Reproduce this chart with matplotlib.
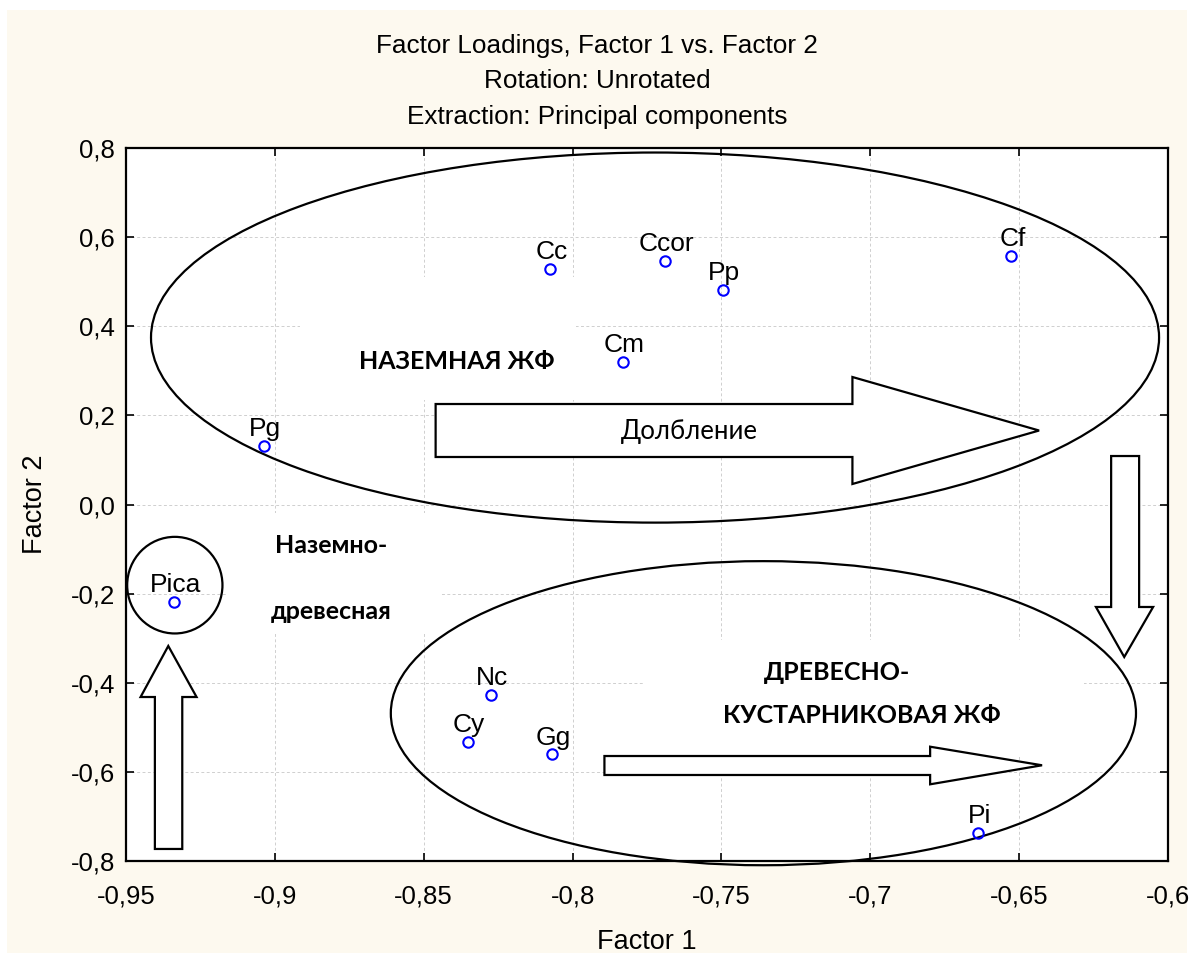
import matplotlib
matplotlib.use("Agg")
import matplotlib.pyplot as plt
from matplotlib.patches import Ellipse, Polygon, Rectangle

# factor loadings
labels = ["Cc", "Ccor", "Pp", "Cf", "Cm", "Pg", "Pica", "Nc", "Cy", "Gg", "Pi"]
factor1 = [-0.8075, -0.769, -0.7495, -0.6527, -0.7831, -0.9037, -0.9339, -0.8275, -0.8352, -0.8069, -0.6637]
factor2 = [0.528, 0.546, 0.481, 0.558, 0.320, 0.131, -0.219, -0.427, -0.533, -0.561, -0.737]

xticks = [-0.95, -0.9, -0.85, -0.8, -0.75, -0.7, -0.65, -0.6]
xticklabels = ["-0,95", "-0,9", "-0,85", "-0,8", "-0,75", "-0,7", "-0,65", "-0,6"]
yticks = [-0.8, -0.6, -0.4, -0.2, 0.0, 0.2, 0.4, 0.6, 0.8]
yticklabels = ["-0,8", "-0,6", "-0,4", "-0,2", "0,0", "0,2", "0,4", "0,6", "0,8"]

title_lines = ["Factor Loadings, Factor 1 vs. Factor 2",
               "Rotation: Unrotated",
               "Extraction: Principal components"]

# group outlines (data units): center x, center y, width, height
groups = [(-0.7723, 0.3746, 0.3386, 0.8305),
          (-0.7359, -0.4683, 0.2503, 0.6824),
          (-0.9336, -0.181, 0.032, 0.2168)]

# block arrows: outline vertices
arrows = [
    [(-0.846, 0.2255), (-0.706, 0.2255), (-0.706, 0.2861), (-0.6433, 0.166),
     (-0.706, 0.046), (-0.706, 0.1066), (-0.846, 0.1066)],
    [(-0.7893, -0.5644), (-0.6799, -0.5644), (-0.6799, -0.5435), (-0.6423, -0.5852),
     (-0.6799, -0.6279), (-0.6799, -0.607), (-0.7893, -0.607)],
    [(-0.6191, 0.1088), (-0.6097, 0.1088), (-0.6097, -0.23), (-0.605, -0.23),
     (-0.6147, -0.3422), (-0.6242, -0.23), (-0.6191, -0.23)],
    [(-0.9403, -0.773), (-0.9311, -0.773), (-0.9311, -0.432), (-0.9263, -0.432),
     (-0.9358, -0.3175), (-0.9451, -0.432), (-0.9403, -0.432)],
]

# white text boxes that hide the grid (x0, x1, y0, y1)
boxes = [(-0.8916, -0.7987, 0.2345, 0.5105),
         (-0.9158, -0.8446, -0.2883, -0.0191),
         (-0.7758, -0.6282, -0.5644, -0.304)]

# annotation texts: text, x, y, bold
notes = [("НАЗЕМНАЯ ЖФ", -0.8389, 0.3198, True),
         ("Долбление", -0.7607, 0.1627, False),
         ("Наземно-", -0.8812, -0.0909, True),
         ("древесная", -0.8812, -0.2412, True),
         ("ДРЕВЕСНО-", -0.7111, -0.3759, True),
         ("КУСТАРНИКОВАЯ ЖФ", -0.7027, -0.4746, True)]

plt.rcParams["font.family"] = ["Liberation Sans", "DejaVu Sans"]

fig = plt.figure(figsize=(11.94, 9.61), dpi=100, facecolor="white")
fig.patches.append(Rectangle((7 / 1194, 8 / 961), 1180 / 1194, 943 / 961,
                             transform=fig.transFigure, facecolor="#fdf9ef",
                             edgecolor="none", zorder=-10))

ax = fig.add_axes([126 / 1194, 1 - 861 / 961, 1042 / 1194, 713 / 961])
ax.set_zorder(1)
ax.set_facecolor("white")
ax.set_xlim(-0.95, -0.6)
ax.set_ylim(-0.8, 0.8)
ax.set_xticks(xticks)
ax.set_xticklabels(xticklabels)
ax.set_yticks(yticks)
ax.set_yticklabels(yticklabels)
ax.tick_params(direction="in", length=6, width=1.2, top=True, right=True,
               labelsize=18.5, colors="black")
ax.tick_params(axis="x", pad=17)
ax.tick_params(axis="y", pad=8)
ax.grid(True, color="#cfcfcf", linestyle=(0, (3, 2.5)), linewidth=0.7)
ax.set_axisbelow(True)
for sp in ax.spines.values():
    sp.set_linewidth(1.6)

for x0, x1, y0, y1 in boxes:
    ax.add_patch(Rectangle((x0, y0), x1 - x0, y1 - y0, facecolor="white",
                           edgecolor="none", zorder=1))

for cx, cy, w, h in groups:
    ax.add_patch(Ellipse((cx, cy), w, h, facecolor="none", edgecolor="black",
                         linewidth=1.6, clip_on=False, zorder=3))

for verts in arrows:
    ax.add_patch(Polygon(verts, closed=True, facecolor="white", edgecolor="black",
                         linewidth=1.6, clip_on=False, zorder=3))

for txt, x, y, bold in notes:
    ax.text(x, y, txt, ha="center", va="center", fontsize=18 if bold else 18.5,
            fontweight="bold" if bold else "normal",
            family=["Lato", "DejaVu Sans"], zorder=4)

ax.plot(factor1, factor2, linestyle="none", marker="o", markersize=7.5,
        markerfacecolor="none", markeredgecolor="#0000ff", markeredgewidth=1.5,
        zorder=5)
for lab, x, y in zip(labels, factor1, factor2):
    ax.annotate(lab, (x, y), xytext=(1, 7), textcoords="offset points",
                ha="center", va="baseline", fontsize=19, zorder=5)

ax.set_xlabel("Factor 1", fontsize=19.5, labelpad=15)
ax.set_ylabel("Factor 2", fontsize=19.5, labelpad=16)

for i, line in enumerate(title_lines):
    fig.text(0.5, 1 - (46 + 35.5 * i) / 961, line, ha="center", va="center",
             fontsize=18.8)

fig.savefig("out.png", dpi=100, facecolor=fig.get_facecolor())
